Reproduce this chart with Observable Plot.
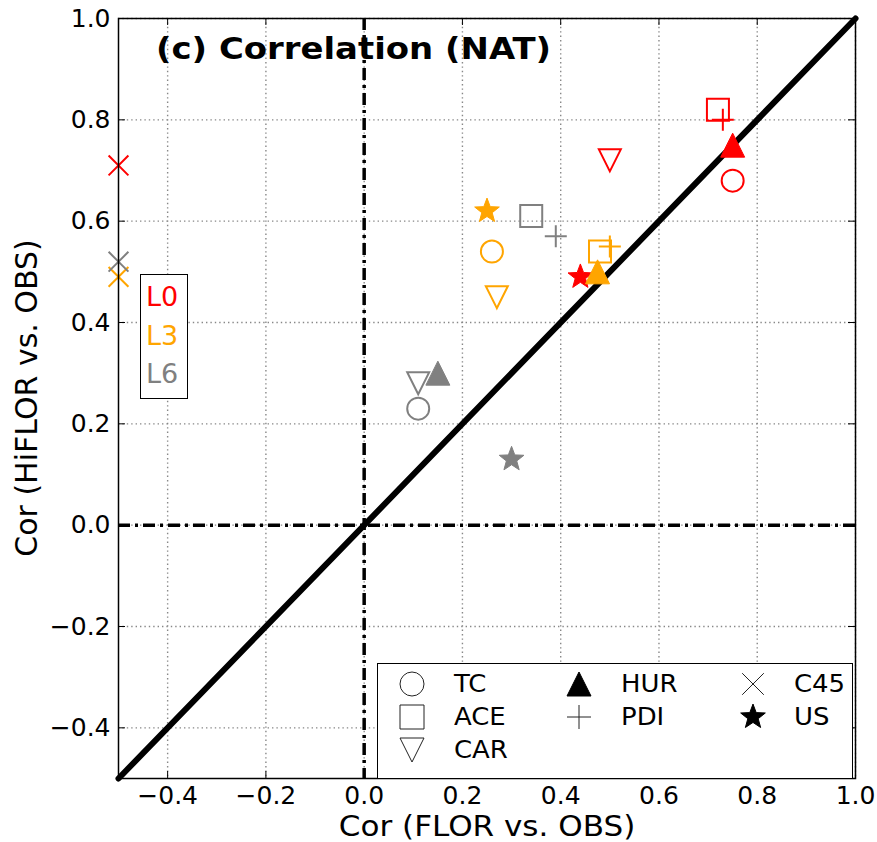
<!DOCTYPE html>
<html>
<head>
<meta charset="utf-8">
<script src="https://cdn.jsdelivr.net/npm/d3@7"></script>
<script src="https://cdn.jsdelivr.net/npm/@observablehq/plot@0.6"></script>
<style>
  body { margin: 0; background: white; font-family: "DejaVu Sans", sans-serif; }
  #wrap { position: relative; width: 877px; height: 842px; overflow: hidden; }
  .ov { position: absolute; white-space: nowrap; color: black; line-height: 1; }
</style>
</head>
<body>
<div id="wrap"></div>
<script>
// ---- data ----
const seriesNames = ["L0", "L3", "L6"];
const seriesColors = ["#ff0000", "#ffa500", "#808080"];
const metrics = ["TC", "ACE", "CAR", "HUR", "PDI", "C45", "US"];
// x: Cor (FLOR vs. OBS), y: Cor (HiFLOR vs. OBS)
const florL0   = [0.75, 0.72, 0.50, 0.75, 0.73, -0.50, 0.44];
const hiflorL0 = [0.68, 0.82, 0.72, 0.75, 0.80,  0.71, 0.49];
const florL3   = [0.26, 0.48, 0.27, 0.475, 0.50, -0.50, 0.25];
const hiflorL3 = [0.54, 0.54, 0.45, 0.50, 0.55,  0.49, 0.62];
const florL6   = [0.11, 0.34, 0.11, 0.15, 0.39, -0.50, 0.30];
const hiflorL6 = [0.23, 0.61, 0.28, 0.30, 0.57,  0.52, 0.13];
const xTicks = [-0.4, -0.2, 0.0, 0.2, 0.4, 0.6, 0.8, 1.0];
const yTicks = [-0.4, -0.2, 0.0, 0.2, 0.4, 0.6, 0.8, 1.0];
const xDomain = [-0.5, 1.0];
const yDomain = [-0.5, 1.0];
const diagonal = [-0.5, 1.0];

const xs = [florL0, florL3, florL6];
const ys = [hiflorL0, hiflorL3, hiflorL6];

// ---- symbols ----
const rad = s => Math.sqrt(s / Math.PI);
const sym = {
  TC: { draw(c, s) { const r = rad(s); c.moveTo(r, 0); c.arc(0, 0, r, 0, 2 * Math.PI); c.closePath(); } },
  ACE: { draw(c, s) { const r = rad(s); c.rect(-r, -r, 2 * r, 2 * r); } },
  CAR: { draw(c, s) { const r = rad(s); c.moveTo(0, r); c.lineTo(-r, -r); c.lineTo(r, -r); c.closePath(); } },
  HUR: { draw(c, s) { const r = rad(s); c.moveTo(0, -r); c.lineTo(-r, r); c.lineTo(r, r); c.closePath(); } },
  PDI: { draw(c, s) { const r = rad(s); c.moveTo(-r, 0); c.lineTo(r, 0); c.moveTo(0, -r); c.lineTo(0, r); } },
  C45: { draw(c, s) { const r = rad(s) * 0.9; c.moveTo(-r, -r); c.lineTo(r, r); c.moveTo(-r, r); c.lineTo(r, -r); } },
  US: { draw(c, s) {
    const R = rad(s) * 1.08, ri = R * 0.42;
    for (let k = 0; k < 10; k++) {
      const a = -Math.PI / 2 + k * Math.PI / 5;
      const rr = k % 2 ? ri : R;
      const px = rr * Math.cos(a), py = rr * Math.sin(a);
      k ? c.lineTo(px, py) : c.moveTo(px, py);
    }
    c.closePath();
  } }
};
const filled = { TC: false, ACE: false, CAR: false, HUR: true, PDI: false, C45: false, US: true };

const rows = [];
seriesNames.forEach((sn, si) => metrics.forEach((m, mi) => {
  rows.push({ series: sn, metric: m, x: xs[si][mi], y: ys[si][mi] });
}));

const fmt = d => (d < 0 ? "\u2212" : "") + Math.abs(d).toFixed(1);
const ML = 118, MR = 22, MT = 18, MB = 64, W = 877, H = 842;
const tx = 7 / ((W - ML - MR) / (xDomain[1] - xDomain[0]));
const ty = 7 / ((H - MT - MB) / (yDomain[1] - yDomain[0]));

const marks = [
  Plot.gridX(xTicks, { stroke: "#888", strokeOpacity: 1, strokeWidth: 1.4, strokeDasharray: "1.4,3" }),
  Plot.gridY(yTicks, { stroke: "#888", strokeOpacity: 1, strokeWidth: 1.4, strokeDasharray: "1.4,3" }),
  Plot.ruleX([0], { stroke: "black", strokeWidth: 3.5, strokeDasharray: "12,5,3,5" }),
  Plot.ruleY([0], { stroke: "black", strokeWidth: 3.5, strokeDasharray: "12,5,3,5" }),
  Plot.line(diagonal.map(v => ({ x: v, y: v })), { x: "x", y: "y", stroke: "black", strokeWidth: 6 }),
  // inward ticks on all four sides
  Plot.ruleX(xTicks, { y1: yDomain[0], y2: yDomain[0] + ty, stroke: "black", strokeWidth: 1 }),
  Plot.ruleX(xTicks, { y1: yDomain[1], y2: yDomain[1] - ty, stroke: "black", strokeWidth: 1 }),
  Plot.ruleY(yTicks, { x1: xDomain[0], x2: xDomain[0] + tx, stroke: "black", strokeWidth: 1 }),
  Plot.ruleY(yTicks, { x1: xDomain[1], x2: xDomain[1] - tx, stroke: "black", strokeWidth: 1 }),
  Plot.axisX(xTicks, { anchor: "bottom", tickSize: 0, tickPadding: 8, tickFormat: fmt, fontSize: 25, label: null }),
  Plot.axisY(yTicks, { anchor: "left", tickSize: 0, tickPadding: 8, tickFormat: fmt, fontSize: 25, label: null })
];

seriesNames.forEach((sn, si) => metrics.forEach(m => {
  const d = rows.filter(r => r.series === sn && r.metric === m);
  const col = seriesColors[si];
  marks.push(Plot.dot(d, filled[m]
    ? { x: "x", y: "y", symbol: sym[m], r: 12, fill: col, stroke: col, strokeWidth: 1 }
    : { x: "x", y: "y", symbol: sym[m], r: 11, fill: "none", stroke: col, strokeWidth: 2 }));
}));

marks.push(Plot.frame({ stroke: "black", strokeWidth: 1.5 }));

const chart = Plot.plot({
  width: W, height: H,
  marginLeft: ML, marginRight: MR, marginTop: MT, marginBottom: MB,
  x: { domain: xDomain },
  y: { domain: yDomain },
  style: { fontFamily: "DejaVu Sans", background: "white", color: "black", overflow: "visible" },
  marks
});
const wrap = document.getElementById("wrap");
wrap.appendChild(chart);

function ov(html, css) {
  const el = document.createElement("div");
  el.className = "ov";
  el.innerHTML = html;
  Object.assign(el.style, css);
  wrap.appendChild(el);
  return el;
}
// title
ov("(c) Correlation (NAT)", { left: "156px", top: "34px", fontSize: "30px", fontWeight: "bold", transform: "scaleX(1.13)", transformOrigin: "left center" });
// axis labels
ov("Cor (FLOR vs. OBS)", { left: (ML + (W - ML - MR) / 2) + "px", top: "812px", fontSize: "29px", transform: "translateX(-50%) scaleX(1.07)" });
ov("Cor (HiFLOR vs. OBS)", { left: "27px", top: (MT + (H - MT - MB) / 2) + "px", fontSize: "30px", transform: "translate(-50%,-50%) rotate(-90deg)" });

// series key box
const key = ov("", { left: "140px", top: "274px", width: "46px", height: "123px", border: "1.5px solid black", background: "white" });
seriesNames.forEach((sn, i) => {
  const t = document.createElement("div");
  t.textContent = sn;
  Object.assign(t.style, { position: "absolute", left: "5px", top: (8 + i * 38.5) + "px", fontSize: "27px", color: seriesColors[i], lineHeight: "1" });
  key.appendChild(t);
});

// symbol legend box
const leg = ov("", { left: "377px", top: "663px", width: "474px", height: "114px", border: "1.5px solid black", background: "white" });
const legendCols = [["TC", "ACE", "CAR"], ["HUR", "PDI"], ["C45", "US"]];
const colMarkerX = [34, 201, 375];
const colTextX = [76, 243, 416];
legendCols.forEach((col, ci) => col.forEach((m, ri) => {
  const cy = 20 + ri * 33;
  const s = d3.select(leg).append("svg")
    .attr("width", 30).attr("height", 30)
    .style("position", "absolute").style("left", (colMarkerX[ci] - 15) + "px").style("top", (cy - 15) + "px")
    .style("overflow", "visible");
  const p = d3.path();
  const r = 12;
  sym[m].draw(p, Math.PI * r * r);
  s.append("path").attr("transform", "translate(15,15)").attr("d", p.toString())
    .attr("fill", filled[m] ? "black" : "none").attr("stroke", filled[m] ? "black" : "#222").attr("stroke-width", 1);
  const t = document.createElement("div");
  t.textContent = m;
  Object.assign(t.style, { position: "absolute", left: colTextX[ci] + "px", top: (cy - 12) + "px", fontSize: "24px", lineHeight: "1", transform: "scaleX(1.08)", transformOrigin: "left center" });
  leg.appendChild(t);
}));
</script>
</body>
</html>
